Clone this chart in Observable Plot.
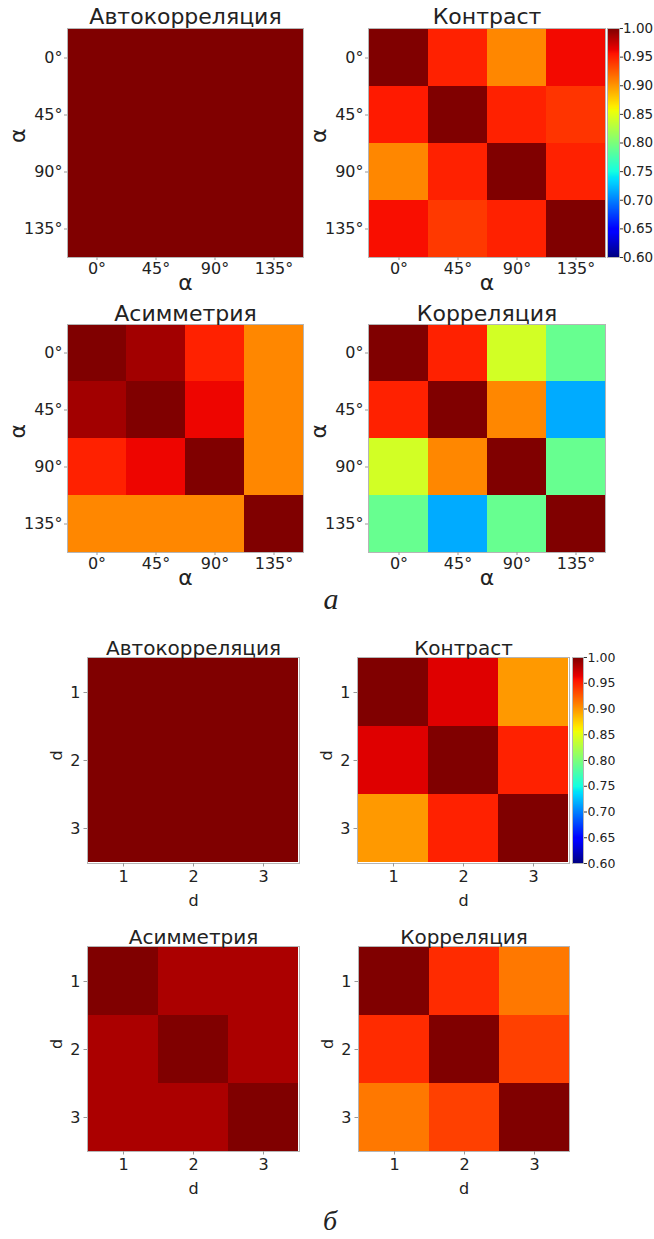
<!DOCTYPE html>
<html>
<head>
<meta charset="utf-8">
<script src="https://cdn.jsdelivr.net/npm/d3@7"></script>
<script src="https://cdn.jsdelivr.net/npm/@observablehq/plot@0.6"></script>
<style>
  html, body { margin: 0; padding: 0; background: #fff; }
  #root { position: relative; width: 654px; height: 1239px; overflow: hidden; font-family: "DejaVu Sans", sans-serif; }
  .box { position: absolute; }
  .cap { position: absolute; font-family: "Liberation Serif", "DejaVu Serif", serif; font-style: italic; color: #222; line-height: 1; }
</style>
</head>
<body>
<div id="root"></div>
<script>
// ---------- data ----------
const anglesA = ["0°", "45°", "90°", "135°"];
const distB = ["1", "2", "3"];
const colorTicks = [0.60, 0.65, 0.70, 0.75, 0.80, 0.85, 0.90, 0.95, 1.00];

const autoA = [
  [1.00, 1.00, 1.00, 1.00],
  [1.00, 1.00, 1.00, 1.00],
  [1.00, 1.00, 1.00, 1.00],
  [1.00, 1.00, 1.00, 1.00]
];
const contrastA = [
  [1.000, 0.950, 0.907, 0.960],
  [0.953, 1.000, 0.950, 0.942],
  [0.907, 0.950, 1.000, 0.950],
  [0.958, 0.940, 0.950, 1.000]
];
const asymA = [
  [1.000, 0.988, 0.950, 0.907],
  [0.988, 1.000, 0.962, 0.907],
  [0.950, 0.962, 1.000, 0.907],
  [0.907, 0.907, 0.907, 1.000]
];
const corrA = [
  [1.000, 0.950, 0.842, 0.790],
  [0.950, 1.000, 0.907, 0.717],
  [0.842, 0.907, 1.000, 0.790],
  [0.790, 0.717, 0.790, 1.000]
];
const autoB = [
  [1.00, 1.00, 1.00],
  [1.00, 1.00, 1.00],
  [1.00, 1.00, 1.00]
];
const contrastB = [
  [1.000, 0.967, 0.899],
  [0.967, 1.000, 0.950],
  [0.899, 0.950, 1.000]
];
const asymB = [
  [1.000, 0.985, 0.985],
  [0.985, 1.000, 0.985],
  [0.985, 0.985, 1.000]
];
const corrB = [
  [1.000, 0.946, 0.913],
  [0.946, 1.000, 0.937],
  [0.913, 0.937, 1.000]
];

// ---------- jet colormap (matplotlib) ----------
function seg(t, pts) {
  for (let i = 1; i < pts.length; i++) {
    if (t <= pts[i][0]) {
      const [t0, v0] = pts[i - 1], [t1, v1] = pts[i];
      return v0 + (v1 - v0) * (t - t0) / (t1 - t0);
    }
  }
  return pts[pts.length - 1][1];
}
function jet(t) {
  t = Math.max(0, Math.min(1, t));
  const r = seg(t, [[0, 0], [0.35, 0], [0.66, 1], [0.89, 1], [1, 0.5]]);
  const g = seg(t, [[0, 0], [0.125, 0], [0.375, 1], [0.64, 1], [0.91, 0], [1, 0]]);
  const b = seg(t, [[0, 0.5], [0.11, 1], [0.34, 1], [0.65, 0], [1, 0]]);
  return `rgb(${Math.round(r * 255)},${Math.round(g * 255)},${Math.round(b * 255)})`;
}
const colorOpts = {type: "linear", domain: [0.6, 1.0], interpolate: jet, clamp: true};

const root = document.getElementById("root");
const TXT = "#222";

function place(el, left, top) {
  const d = document.createElement("div");
  d.className = "box";
  d.style.left = left + "px";
  d.style.top = top + "px";
  d.appendChild(el);
  root.appendChild(d);
}

function heatmap(o) {
  const [bx, by, bw, bh] = o.box;
  const [l, t, r, b] = o.frame;
  const cats = o.cats;
  const cells = [];
  o.matrix.forEach((row, i) => row.forEach((v, j) => cells.push({row: cats[i], col: cats[j], v})));
  const chart = Plot.plot({
    width: bw, height: bh,
    marginLeft: l - bx, marginRight: bx + bw - r,
    marginTop: t - by, marginBottom: by + bh - b,
    x: {type: "band", domain: cats, padding: 0, axis: null},
    y: {type: "band", domain: cats, padding: 0, axis: null},
    color: colorOpts,
    style: {fontFamily: "DejaVu Sans", color: TXT, background: "transparent", overflow: "visible"},
    marks: [
      Plot.cell(cells, {x: "col", y: "row", fill: "v", inset: 0, shapeRendering: "crispEdges"}),
      Plot.frame({stroke: "#b5b5b5", strokeWidth: 1}),
      Plot.axisX({anchor: "bottom", tickSize: o.tickSize, tickPadding: o.tickPad, fontSize: o.tickFont, stroke: "#999", label: null, color: TXT}),
      Plot.axisY({anchor: "left", tickSize: o.tickSize, tickPadding: o.tickPad, fontSize: o.tickFont, stroke: "#999", label: null, color: TXT}),
      Plot.text([o.title], {frameAnchor: "top", lineAnchor: "bottom", dy: -o.titleGap, fontSize: o.titleFont, fill: TXT}),
      Plot.text([o.label], {frameAnchor: "bottom", lineAnchor: "bottom", dy: o.xLabelDy, fontSize: o.labelFont, fill: TXT}),
      Plot.text([o.label], {frameAnchor: "left", lineAnchor: "middle", rotate: -90, dx: -o.yLabelDx, fontSize: o.labelFont, fill: TXT})
    ]
  });
  place(chart, bx, by);
}

function colorbar(o) {
  const [bx, by, bw, bh] = o.box;
  const [l, t, r, b] = o.frame;
  const chart = Plot.plot({
    width: bw, height: bh,
    marginLeft: l - bx, marginRight: bx + bw - r,
    marginTop: t - by, marginBottom: by + bh - b,
    x: {type: "linear", domain: [0, 1], axis: null},
    y: {type: "linear", domain: [0.6, 1.0], axis: null},
    color: colorOpts,
    style: {fontFamily: "DejaVu Sans", color: TXT, background: "transparent", overflow: "visible"},
    marks: [
      Plot.raster({fill: (x, y) => y, x1: 0, x2: 1, y1: 0.6, y2: 1.0, width: 1, height: 400}),
      Plot.frame({stroke: "#b5b5b5", strokeWidth: 1}),
      Plot.axisY({anchor: "right", ticks: colorTicks, tickFormat: d3.format(".2f"), tickSize: 3, tickPadding: o.tickPad, fontSize: o.tickFont, stroke: "#333", label: null, color: TXT})
    ]
  });
  place(chart, bx, by);
}

const styleA = {cats: anglesA, tickSize: 3, tickPad: 2, tickFont: 16, titleFont: 22, labelFont: 22, xLabelDy: 32, yLabelDx: 50, label: "α"};
const styleB = {cats: distB, tickSize: 3.5, tickPad: 3.5, tickFont: 16, titleFont: 20, labelFont: 16, xLabelDy: 42, yLabelDx: 31, label: "d"};

// ---------- group а ----------
heatmap({...styleA, box: [0, 0, 330, 300], frame: [67, 28, 303, 257], matrix: autoA, title: "Автокорреляция", titleGap: 5});
heatmap({...styleA, box: [330, 0, 290, 300], frame: [368, 28, 605, 257], matrix: contrastA, title: "Контраст", titleGap: 5});
colorbar({box: [598, 0, 56, 300], frame: [607, 28, 619, 257], tickFont: 13.5, tickPad: 0.5});
heatmap({...styleA, box: [0, 300, 330, 320], frame: [67, 324, 303, 552], matrix: asymA, title: "Асимметрия", titleGap: 4});
heatmap({...styleA, box: [330, 300, 290, 320], frame: [368, 324, 605, 552], matrix: corrA, title: "Корреляция", titleGap: 4});

// ---------- group б ----------
heatmap({...styleB, box: [0, 630, 330, 290], frame: [87, 657, 299, 863], matrix: autoB, title: "Автокорреляция", titleGap: 3});
heatmap({...styleB, box: [330, 630, 250, 290], frame: [357, 657, 569, 863], matrix: contrastB, title: "Контраст", titleGap: 3});
colorbar({box: [565, 630, 89, 290], frame: [572, 657, 583, 863], tickFont: 12.5, tickPad: 1});
heatmap({...styleB, box: [0, 920, 330, 280], frame: [87, 946, 299, 1151], matrix: asymB, title: "Асимметрия", titleGap: 3});
heatmap({...styleB, box: [330, 920, 250, 280], frame: [358, 946, 569, 1151], matrix: corrB, title: "Корреляция", titleGap: 3});

// ---------- captions ----------
function caption(text, cx, baseline, size) {
  const s = document.createElement("div");
  s.className = "cap";
  s.textContent = text;
  s.style.fontSize = size + "px";
  s.style.left = (cx - 20) + "px";
  s.style.width = "40px";
  s.style.textAlign = "center";
  s.style.top = (baseline - size * 0.891) + "px";
  root.appendChild(s);
}
caption("а", 331, 611, 30);
caption("б", 330, 1232, 28);
</script>
</body>
</html>
